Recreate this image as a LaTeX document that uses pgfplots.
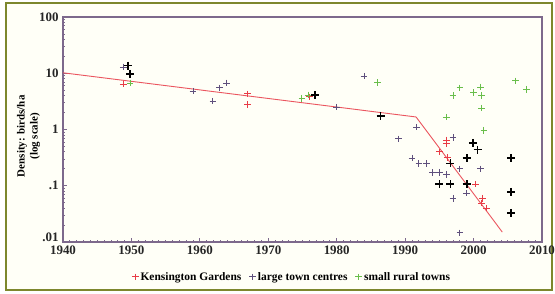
\documentclass[border=0pt]{standalone}
\usepackage{pgfplots}
\pgfplotsset{compat=1.18}
\usepackage{fontspec}
\setmainfont{Liberation Serif}
\definecolor{kgred}{RGB}{232,60,70}
\definecolor{linered}{RGB}{235,85,95}
\definecolor{ltpurple}{RGB}{95,80,125}
\definecolor{srgreen}{RGB}{105,190,75}
\definecolor{axcol}{RGB}{125,105,140}
\definecolor{framecol}{RGB}{125,135,45}
\definecolor{bg}{RGB}{255,255,247}
\begin{document}
\begin{tikzpicture}[x=1bp,y=1bp]
\useasboundingbox (0,0) rectangle (555,293);
\draw[framecol, line width=1.5bp, fill=bg] (6,3) rectangle (552,290);
\begin{axis}[
  at={(63bp,51bp)}, anchor=south west,
  scale only axis, width=479bp, height=225bp,
  ymode=log, log basis y=10,
  xmin=1940, xmax=2010, ymin=0.01, ymax=100,
  xtick={1940,1950,...,2010},
  minor x tick num=9,
  ytick={0.01,0.1,1,10,100}, yticklabels={\smash{\raisebox{0.5bp}{.01}},.1,1,10,100},
  minor ytick={0.02,0.03,0.04,0.05,0.06,0.07,0.08,0.09,0.2,0.3,0.4,0.5,0.6,0.7,0.8,0.9,2,3,4,5,6,7,8,9,20,30,40,50,60,70,80,90},
  axis line style={axcol, line width=1.5bp},
  every tick/.style={axcol, line width=0.8bp},
  major tick length=4bp, minor tick length=2bp,
  tick align=inside,
  xtick pos=left, ytick pos=left,
  ticklabel style={font=\bfseries\fontsize{13}{14}\selectfont, text=black!85},
  x tick label style={/pgf/number format/1000 sep={}, yshift=-0.5bp},
  y tick label style={xshift=-1bp},
  /pgf/number format/assume math mode=true,
  ylabel={Density: birds/ha\\(log scale)},
  every axis y label/.style={at={(axis description cs:-0.072,0.47)}, rotate=90, anchor=center, align=center, font=\bfseries\fontsize{11}{13}\selectfont},
  legend style={at={(axis description cs:0.478,-0.155)}, anchor=center, draw=none, fill=none, legend columns=-1,
    font=\bfseries\fontsize{11.5}{13}\selectfont,
    /tikz/every even column/.append style={column sep=6bp}},
  legend image code/.code={\draw[#1] plot coordinates {(0.1cm,0cm)};},
  clip=false,
]
\addplot[linered, line width=0.9bp, forget plot] coordinates {(1940,10.2) (1991.6,1.67) (2004.2,0.015)};
\addplot[only marks, mark=+, mark size=3.3bp, kgred, line width=0.9bp] coordinates {
(1948.8,6.4) (1967,4.3) (1967,2.8) (1976,3.8) (1996,0.65) (1996,0.57) (1995,0.40) (1996.2,0.32)
(2000.3,0.107) (2001.3,0.06) (2001.2,0.049) (2001.9,0.04)};
\addlegendentry{Kensington Gardens}
\addplot[only marks, mark=+, mark size=3.3bp, ltpurple, line width=0.9bp] coordinates {
(1948.8,12.9) (1959,4.8) (1961.9,3.2) (1962.9,5.5) (1963.9,6.7) (1980,2.5) (1984,8.9) (1991.7,1.1)
(1989,0.68) (1997,0.72) (1991,0.31) (1992,0.25) (1993.1,0.25) (1998,0.2) (2001,0.2) (1994,0.17)
(1995,0.17) (1996,0.16) (1999,0.074) (1997,0.06) (1998,0.0145)};
\addlegendentry{large town centres}
\addplot[only marks, mark=+, mark size=3.3bp, srgreen, line width=0.9bp] coordinates {
(1949.8,6.7) (1974.9,3.6) (1975.8,4.1) (1986,6.9) (1996,1.66) (1997,4.0) (1998,5.5) (2000,4.5)
(2001,5.7) (2001.2,4.0) (2001.2,2.4) (2001.5,0.97) (2006.1,7.3) (2007.7,5.2)};
\addlegendentry{small rural towns}
\addplot[only marks, mark=+, mark size=4bp, black, line width=1.6bp, forget plot] coordinates {
(1949.5,13.7) (1949.8,9.7) (1976.8,4.1) (1986.4,1.74) (1999.9,0.58) (2000.6,0.44) (1999,0.31)
(2005.5,0.31) (1996.6,0.25) (1995,0.107) (1996.6,0.107) (1999,0.107) (2005.5,0.078) (2005.5,0.033)};
\end{axis}
\end{tikzpicture}
\end{document}
